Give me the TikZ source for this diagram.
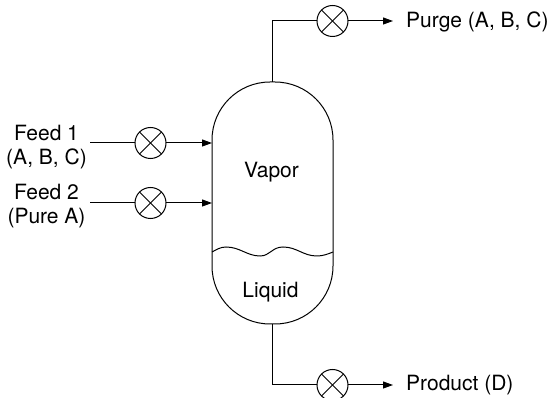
\documentclass[tikz,border=0pt]{standalone}
\usepackage{fontspec}
\setmainfont{TeX Gyre Heros}
\usetikzlibrary{arrows.meta}
\tikzset{
  pipe/.style={draw=black,line width=1pt},
  flow/.style={pipe,-{Stealth[length=10pt,width=7pt,inset=0pt]}},
  valve/.style={circle,draw=black,line width=1pt,minimum size=31pt,inner sep=0pt,outer sep=0pt,
    path picture={
      \draw[line width=1pt] (path picture bounding box.north west)--(path picture bounding box.south east);
      \draw[line width=1pt] (path picture bounding box.north east)--(path picture bounding box.south west);}},
  vesselbox/.style={draw=black,line width=1pt,rounded corners=58pt,minimum width=121pt,minimum height=242pt,inner sep=0pt,outer sep=0pt},
  lbl/.style={font=\fontsize{21}{24.5}\selectfont,inner sep=0pt,align=center},
  wave/.style={draw=black,line width=1pt}
}
\begin{document}
\begin{tikzpicture}[x=1pt,y=-1pt]
\useasboundingbox (0,0) rectangle (550,398);
\clip (0,0) rectangle (550,398);
\node[vesselbox] (vessel) at (272.5,203) {};
\node[valve] (v1) at (150.5,143) {};
\node[valve] (v2) at (150.5,203) {};
\node[valve] (v3) at (332.5,21) {};
\node[valve] (v4) at (332.5,385) {};
\coordinate (f1) at (90,143);
\coordinate (f2) at (90,203);
\coordinate (pe) at (393,21);
\coordinate (de) at (393,385);
\node[lbl] (feedA) at (46.5,147) {Feed 1\\(A, B, C)};
\node[lbl] (feedB) at (46.5,206) {Feed 2\\(Pure A)};
\node[lbl,anchor=west] (purge) at (406,22) {Purge (A, B, C)};
\node[lbl,anchor=west] (prod) at (406,385) {Product (D)};
\node[lbl] (vapor) at (271.5,172) {Vapor};
\node[lbl] (liquid) at (270.5,292) {Liquid};
\draw[pipe] (f1) -- (v1.west);
\draw[pipe] (f2) -- (v2.west);
\draw[flow] (v1.east) -- (v1.east -| vessel.west);
\draw[flow] (v2.east) -- (v2.east -| vessel.west);
\draw[pipe] (vessel.north) |- (v3.west);
\draw[pipe] (vessel.south) |- (v4.west);
\draw[flow] (v3.east) -- (pe);
\draw[flow] (v4.east) -- (de);
\draw[wave] (212,252) .. controls (216,250) and (220,247) .. (226,247)
  .. controls (240,247) and (247,256) .. (260,256)
  .. controls (270,256) and (272,247) .. (283,247)
  .. controls (297,247) and (303,256) .. (317,256)
  .. controls (323,256) and (328,254) .. (333,252);
\end{tikzpicture}
\end{document}
